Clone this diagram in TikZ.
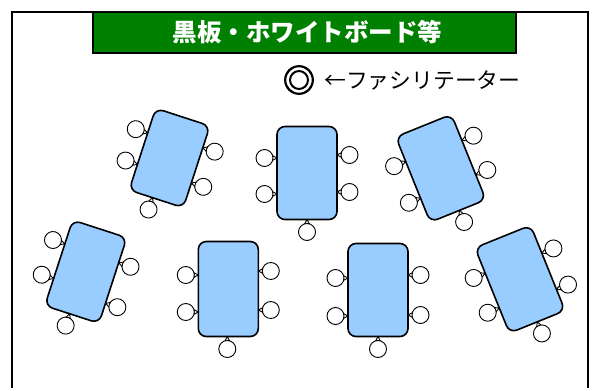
\documentclass[tikz,border=0pt]{standalone}
\usepackage{fontspec}
\newfontfamily\jp{Noto Sans CJK JP}
\newfontfamily\jpheavy[FakeBold=3]{Noto Sans CJK JP}
\definecolor{tblue}{HTML}{99CCFF}
\definecolor{boardgreen}{HTML}{008000}
\tikzset{
  tablebox/.style={draw, line width=1.6pt, fill=tblue, rounded corners=8pt, inner sep=0pt, transform shape},
  seatline/.style={draw=black, fill=white, line width=0.9pt},
}
\newcommand\seat[3]{%
  \begin{scope}[shift={(#1,#2)}, rotate=#3]
    \filldraw[seatline] (8.0,-2.4) -- (12.4,0) -- (8.0,2.4) -- cycle;
    \filldraw[seatline] (0,0) circle (8.5);
  \end{scope}}
\begin{document}
\begin{tikzpicture}[x=1pt, y=-1pt]
\useasboundingbox (0,0) rectangle (595,388);
\clip (0,0) rectangle (595,388);
\draw[line width=1.5pt] (12,400) -- (12,12) -- (588,12) -- (588,400);
\node[draw=black, line width=1.5pt, fill=boardgreen, minimum width=423pt, minimum height=41pt, inner sep=0pt] (board) at (304.5,32.5) {};
\node[text=white, font=\jp\bfseries\fontsize{24.5}{28}\selectfont, inner sep=0pt] (boardtext) at (307.5,32.5) {黒板・ホワイトボード等};
\node[font=\jpheavy\fontsize{32}{34}\selectfont, inner sep=0pt] (fac) at (299,80) {◎};
\node[font=\jp\fontsize{21.8}{24}\selectfont, inner sep=0pt, anchor=west] (factext) at (324,80) {←ファシリテーター};
% table 1
\begin{scope}[shift={(169.5,158)}, rotate=-18]
  \node[tablebox, minimum width=57pt, minimum height=86pt] (t1) at (0,0) {};
  \seat{-41}{-17}{0}\seat{-41}{16}{0}\seat{41}{-20}{180}\seat{41}{17}{180}\seat{-4}{55.5}{90}
\end{scope}
% table 2
\begin{scope}[shift={(307,173)}]
  \node[tablebox, minimum width=60pt, minimum height=93pt] (t2) at (0,0) {};
  \seat{-42.5}{-15}{0}\seat{-42.5}{21}{0}\seat{42.5}{-18}{180}\seat{42.5}{19}{180}\seat{0}{59}{90}
\end{scope}
% table 3
\begin{scope}[shift={(440.8,168.3)}, rotate=22]
  \node[tablebox, minimum width=60pt, minimum height=92pt] (t3) at (0,0) {};
  \seat{-42.5}{-19.5}{0}\seat{-42.5}{20}{0}\seat{42.5}{-18}{180}\seat{42.5}{19}{180}\seat{1.5}{58.5}{90}
\end{scope}
% table 4
\begin{scope}[shift={(85.8,271.7)}, rotate=-18]
  \node[tablebox, minimum width=57pt, minimum height=90pt] (t4) at (0,0) {};
  \seat{-41}{-20}{0}\seat{-41}{16.5}{0}\seat{41}{-18.5}{180}\seat{41}{24}{180}\seat{-2.5}{57.5}{90}
\end{scope}
% table 5
\begin{scope}[shift={(228.3,289)}]
  \node[tablebox, minimum width=60pt, minimum height=95pt] (t5) at (0,0) {};
  \seat{-42.5}{-14}{0}\seat{-42.5}{23}{0}\seat{42.5}{-18}{180}\seat{42.5}{21}{180}\seat{-1}{60}{90}
\end{scope}
% table 6
\begin{scope}[shift={(378,290)}]
  \node[tablebox, minimum width=60pt, minimum height=93pt] (t6) at (0,0) {};
  \seat{-42.5}{-12}{0}\seat{-42.5}{26}{0}\seat{42.5}{-15}{180}\seat{42.5}{25}{180}\seat{0}{59}{90}
\end{scope}
% table 7
\begin{scope}[shift={(520,279.2)}, rotate=22]
  \node[tablebox, minimum width=60pt, minimum height=92pt] (t7) at (0,0) {};
  \seat{-42.5}{-18.5}{0}\seat{-42.5}{19}{0}\seat{42.5}{-16}{180}\seat{42.5}{23}{180}\seat{0}{58.5}{90}
\end{scope}
\end{tikzpicture}
\end{document}
